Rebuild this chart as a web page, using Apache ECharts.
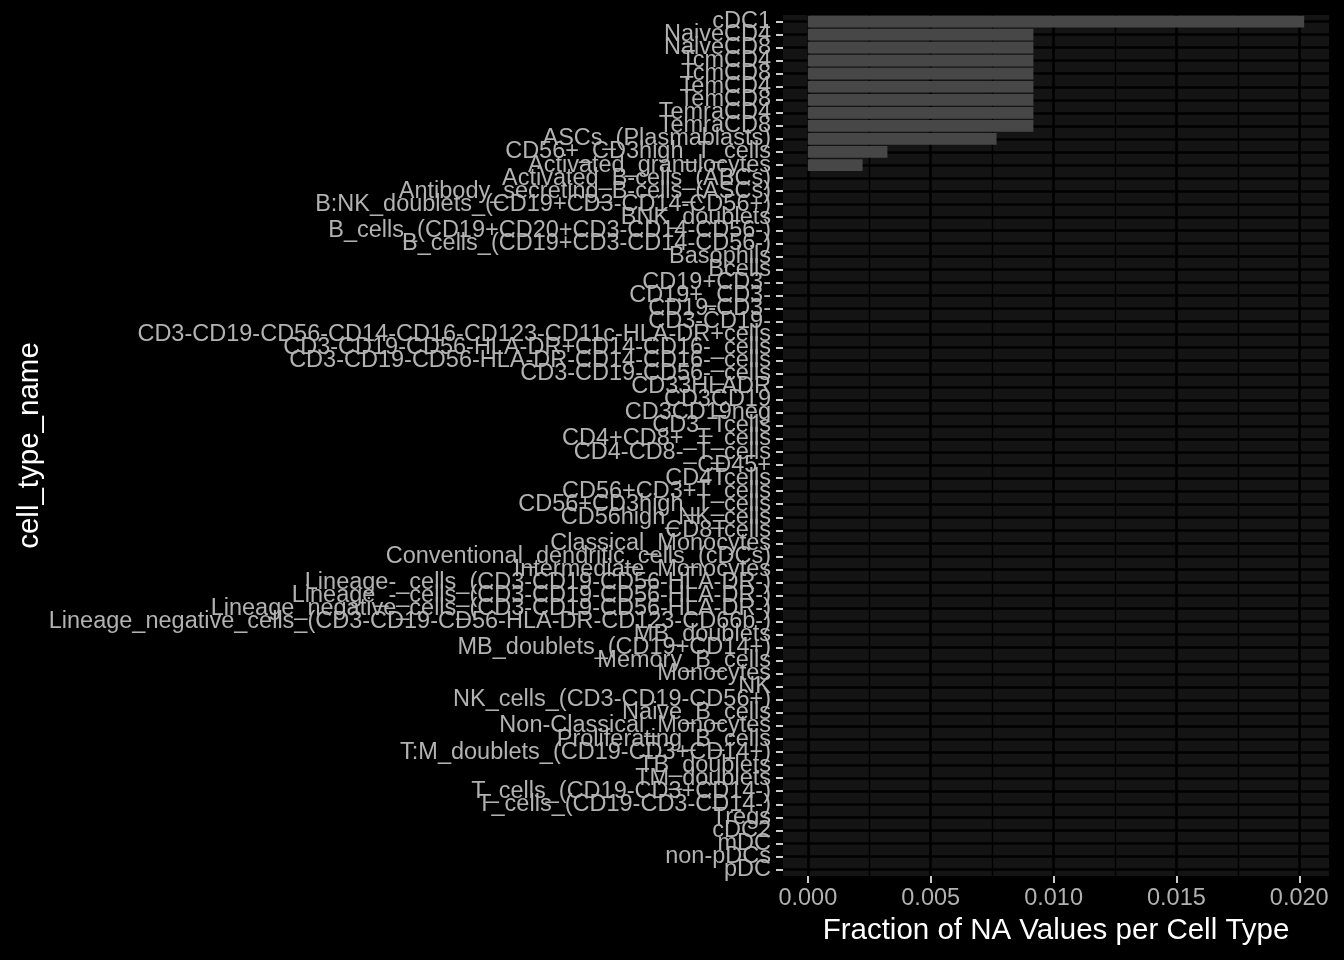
<!DOCTYPE html>
<html>
<head>
<meta charset="utf-8">
<script src="https://cdn.jsdelivr.net/npm/echarts@6/dist/echarts.min.js"></script>
<style>
html,body{margin:0;padding:0;background:#000;}
#chart{width:1344px;height:960px;}
</style>
</head>
<body>
<div id="chart"></div>
<script>
const categories = [
  "cDC1","NaiveCD4","NaiveCD8","TcmCD4","TcmCD8","TemCD4","TemCD8","TemraCD4","TemraCD8",
  "ASCs_(Plasmablasts)","CD56+_CD3high_T_cells","Activated_granulocytes",
  "Activated_B-cells_(ABCs)","Antibody_secreting_B-cells_(ASCs)",
  "B:NK_doublets_(CD19+CD3-CD14-CD56+)","BNK_doublets",
  "B_cells_(CD19+CD20+CD3-CD14-CD56-)","B_cells_(CD19+CD3-CD14-CD56-)",
  "Basophils","Bcells","CD19+CD3-","CD19+_CD3-","CD19-CD3-","CD3-CD19-",
  "CD3-CD19-CD56-CD14-CD16-CD123-CD11c-HLA-DR+cells",
  "CD3-CD19-CD56-HLA-DR+CD14-CD16-_cells",
  "CD3-CD19-CD56-HLA-DR-CD14-CD16-_cells",
  "CD3-CD19-CD56-_cells","CD33HLADR","CD3CD19","CD3CD19neg","CD3_Tcells",
  "CD4+CD8+_T_cells","CD4-CD8-_T_cells","CD45+","CD4Tcells","CD56+CD3+T_cells",
  "CD56+CD3high_T_cells","CD56high_NK_cells","CD8Tcells","Classical_Monocytes",
  "Conventional_dendritic_cells_(cDCs)","Intermediate_Monocytes",
  "Lineage-_cells_(CD3-CD19-CD56-HLA-DR-)","Lineage_-_cells_(CD3-CD19-CD56-HLA-DR-)",
  "Lineage_negative_cells_(CD3-CD19-CD56-HLA-DR-)",
  "Lineage_negative_cells_(CD3-CD19-CD56-HLA-DR-CD123-CD66b-)",
  "MB_doublets","MB_doublets_(CD19+CD14+)","Memory_B_cells","Monocytes","NK",
  "NK_cells_(CD3-CD19-CD56+)","Naive_B_cells","Non-Classical_Monocytes",
  "Proliferating_B_cells","T:M_doublets_(CD19-CD3+CD14+)","TB_doublets","TM_doublets",
  "T_cells_(CD19-CD3+CD14-)","T_cells_(CD19-CD3-CD14-)","Tregs","cDC2","mDC","non-pDCs","pDC"
];
const naFraction = [
  0.0202,0.00918,0.00918,0.00918,0.00918,0.00918,0.00918,0.00918,0.00918,
  0.00768,0.00324,0.00223,
  0,0,
  0,0,
  0,0,
  0,0,0,0,0,0,
  0,
  0,
  0,
  0,0,0,0,0,
  0,0,0,0,0,
  0,0,0,0,
  0,0,
  0,0,
  0,
  0,
  0,0,0,0,0,
  0,0,0,
  0,0,0,0,
  0,0,0,0,0,0,0
];
const xMajorTicks = [0, 0.005, 0.010, 0.015, 0.020];
const xMinorTicks = [0.0025, 0.0075, 0.0125, 0.0175];
const xTitle = "Fraction of NA Values per Cell Type";
const yTitle = "cell_type_name";

const FONT = "Liberation Sans, Arial, Helvetica, sans-serif";
const rowIdx = categories.map((c, i) => i);
const maxVal = Math.max(...naFraction);
const pad = maxVal * 0.05;

const chart = echarts.init(document.getElementById('chart'), null, {renderer: 'canvas'});
chart.setOption({
  backgroundColor: '#000000',
  animation: false,
  grid: {
    left: 783, right: 15, top: 15, bottom: 84,
    show: true, backgroundColor: '#141414', borderWidth: 0
  },
  xAxis: [
    {
      type: 'value', min: -pad, max: maxVal + pad,
      position: 'bottom',
      axisLine: {show: false, onZero: false},
      axisTick: {show: true, customValues: xMajorTicks, length: 7, lineStyle: {color: '#cccccc', width: 2}},
      axisLabel: {
        customValues: xMajorTicks, margin: 11,
        color: '#b2b2b2', fontSize: 23.5, fontFamily: FONT,
        formatter: v => v.toFixed(3)
      },
      splitLine: {show: true, lineStyle: {color: '#000000', width: 2.6}},
      name: xTitle, nameLocation: 'middle', nameGap: 40,
      nameTextStyle: {color: '#ffffff', fontSize: 29.5, fontFamily: FONT}
    },
    {
      type: 'value', min: -pad, max: maxVal + pad,
      position: 'bottom',
      axisLine: {show: false, onZero: false},
      axisTick: {show: false, customValues: xMinorTicks},
      axisLabel: {show: false},
      splitLine: {show: true, lineStyle: {color: '#000000', width: 1.4}}
    }
  ],
  yAxis: [
    {
      type: 'category', data: categories, inverse: true,
      position: 'left',
      axisLine: {show: false, onZero: false},
      axisTick: {show: true, alignWithLabel: true, length: 7, lineStyle: {color: '#cccccc', width: 2}},
      axisLabel: {interval: 0, margin: 12, color: '#b2b2b2', fontSize: 23.5, fontFamily: FONT},
      splitLine: {show: false},
      name: yTitle, nameLocation: 'middle', nameGap: 738,
      nameTextStyle: {color: '#ffffff', fontSize: 29.5, fontFamily: FONT}
    },
    {
      type: 'value', min: -0.5, max: categories.length - 0.5, inverse: true,
      position: 'right',
      axisLine: {show: false, onZero: false},
      axisTick: {show: false, customValues: rowIdx},
      axisLabel: {show: false},
      splitLine: {show: true, lineStyle: {color: '#000000', width: 2.6}}
    }
  ],
  series: [{
    type: 'bar',
    xAxisIndex: 0, yAxisIndex: 0,
    data: naFraction,
    barWidth: '90%',
    itemStyle: {color: '#474747'},
    silent: true
  }]
});
</script>
</body>
</html>
